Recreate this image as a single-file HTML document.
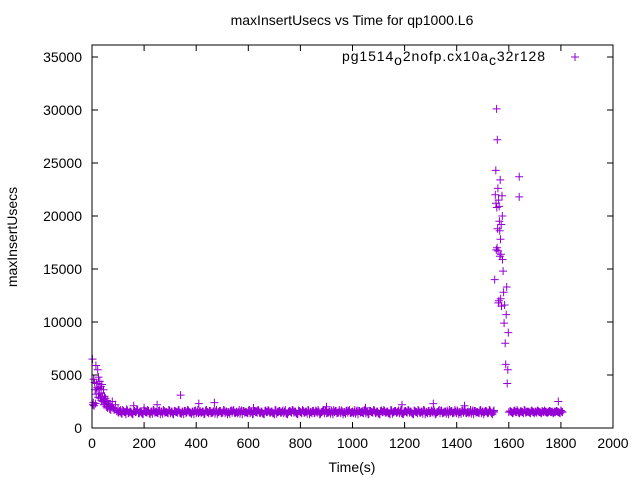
<!DOCTYPE html>
<html><head><meta charset="utf-8"><style>
body{margin:0;background:#fff}
svg text{font-family:"Liberation Sans",sans-serif;font-size:14px;fill:#000}
</style></head><body>
<svg id="chart" width="640" height="480" viewBox="0 0 640 480" xmlns="http://www.w3.org/2000/svg">
<rect width="640" height="480" fill="#fff"/>
<text x="352" y="25" text-anchor="middle">maxInsertUsecs vs Time for qp1000.L6</text>
<text transform="translate(17,237) rotate(-90)" text-anchor="middle">maxInsertUsecs</text>
<text x="352" y="472" text-anchor="middle">Time(s)</text>
<g id="ticks"></g>
<g id="marks"></g>
<rect x="92" y="45" width="521" height="383" fill="none" stroke="#000" stroke-width="1"/>
<g>
<text x="342" y="61" textLength="203" lengthAdjust="spacing">pg1514<tspan dy="4">o</tspan><tspan dy="-4">2nofp.cx10a</tspan><tspan dy="4">c</tspan><tspan dy="-4">32r128</tspan></text>
<path d="M571 57h8M575 53v8" stroke="#9400d3" stroke-width="1"/>
</g>
</svg>
<script>
const xTicks=[0,200,400,600,800,1000,1200,1400,1600,1800,2000];
const yTicks=[0,5000,10000,15000,20000,25000,30000,35000];
// early decay region (t, v)
const earlyT=[2,4,5,6,8,10,12,14,15,16,18,20,22,24,25,26,28,30,32,34,35,36,38,40,42,44,45,46,48,50,52,55,58,60,62,65,68,70,72,75,78,80,85,90,95,100,110,120,130];
const earlyV=[6500,2200,2400,4600,2100,4300,3600,2300,5900,3200,4200,3800,5500,2900,4800,3700,3200,4400,2800,3900,3300,2600,4100,3000,2500,3600,2700,2200,3000,2400,2800,2000,2600,1900,2300,2200,1800,2100,1700,2000,2500,1900,1700,2200,1600,1800,1700,1600,1500];
// main baseline band values, t starts 100 and step 6 s
const bandV=[1500,1600,1400,1700,1500,1300,1650,1450,1550,1350,1600,1500,1750,1400,1550,1450,1300,1600,1500,1700,1400,1550,1350,1650,1500,1450,1600,1300,1550,1700,1450,1500,1400,1650,1550,1350,1600,1500,1450,1700,1400,1550,1300,1600,1500,1650,1450,1350,1550,1600,1400,1700,1500,1450,1550,1300,1650,1500,1400,1600,1450,1550,1350,1700,1500,1600,1400,1450,1650,1550,1300,1500,1600,1450,1700,1400,1550,1500,1350,1650,1600,1450,1500,1400,1700,1550,1300,1600,1500,1450,1650,1400,1550,1350,1600,1500,1700,1450,1550,1400,1300,1650,1500,1600,1450,1550,1400,1700,1350,1500,1600,1450,1650,1550,1400,1300,1600,1500,1700,1450,1550,1350,1650,1500,1400,1600,1450,1550,1700,1300,1500,1600,1400,1650,1450,1550,1350,1500,1700,1600,1400,1450,1550,1650,1300,1500,1600,1450,1700,1400,1550,1500,1350,1650,1600,1450,1500,1400,1700,1550,1300,1600,1500,1450,1650,1400,1550,1350,1600,1500,1700,1450,1550,1400,1300,1650,1500,1600,1450,1550,1400,1700,1350,1500,1600,1450,1650,1550,1400,1300,1600,1500,1700,1450,1550,1350,1650,1500,1400,1600,1450,1550,1700,1300,1500,1600,1400,1650,1450,1550,1350,1500,1700,1600,1400,1450,1550,1650,1300,1500,1600,1450,1700,1400,1550,1500,1350,1650,1600,1450,1500,1400,1700,1550,1300,1600,1500,1450,1650,1400,1550];
// scattered outliers above band
const outT=[160,200,250,340,410,470,620,900,1050,1190,1310,1430,1790];
const outV=[2100,1900,2200,3100,2300,2400,1900,2000,1900,2200,2300,2100,2500];
// spike region
const spikeT=[1543,1546,1548,1550,1551,1552,1553,1554,1555,1556,1557,1558,1559,1560,1561,1562,1563,1564,1565,1566,1567,1568,1569,1570,1571,1572,1574,1575,1576,1578,1580,1582,1584,1586,1588,1590,1592,1594,1596,1598,1600];
const spikeV=[1500,14000,22000,24300,21200,16800,30100,20800,17000,27200,18800,22600,16700,11800,21500,12000,20900,19500,18600,16200,23400,17800,12200,16400,19200,11500,21900,20000,15900,14800,12800,9900,11600,8000,6000,10700,13300,4200,5500,9000,1500];
const spike2T=[1640,1640];
const spike2V=[23700,21800];
// post-spike band, t starts 1605, step 6 s
const band2V=[1600,1500,1450,1650,1500,1550,1400,1600,1500,1700,1450,1550,1500,1400,1650,1500,1550,1450,1600,1500,1400,1550,1650,1500,1450,1600,1500,1550,1450,1500,1600,1500,1400,1550];

const X0=92,X1=613,Y0=428,Y1=45;
const xs=t=>X0+t/2000*(X1-X0);
const ys=v=>Y0-v/36130*(Y0-Y1);
const NS='http://www.w3.org/2000/svg';
const tg=document.getElementById('ticks'),mg=document.getElementById('marks');
xTicks.forEach(t=>{
 const l=document.createElementNS(NS,'path');
 l.setAttribute('d',`M${xs(t)} ${Y0}v-6M${xs(t)} ${Y1}v6`);l.setAttribute('stroke','#000');
 
 
 tg.appendChild(l);
 const tx=document.createElementNS(NS,'text');
 tx.setAttribute('x',xs(t));tx.setAttribute('y',448);tx.setAttribute('text-anchor','middle');tx.textContent=t;
 
 
 tg.appendChild(tx);
});
yTicks.forEach(v=>{
 const l=document.createElementNS(NS,'path');
 l.setAttribute('d',`M${X0} ${ys(v)}h6M${X1} ${ys(v)}h-6`);l.setAttribute('stroke','#000');
 
 
 tg.appendChild(l);
 const tx=document.createElementNS(NS,'text');
 tx.setAttribute('x',82);tx.setAttribute('y',ys(v)+5);tx.setAttribute('text-anchor','end');tx.textContent=v;
 
 
 tg.appendChild(tx);
});
let d='';
function add(t,v){const x=xs(t),y=ys(v);d+=`M${(x-4).toFixed(1)} ${y.toFixed(1)}h8M${x.toFixed(1)} ${(y-4).toFixed(1)}v8`;}
earlyT.forEach((t,i)=>add(t,earlyV[i]));
bandV.forEach((v,i)=>{add(100+i*6,v);add(103+i*6,bandV[(i+7)%bandV.length]);});
outT.forEach((t,i)=>add(t,outV[i]));
spikeT.forEach((t,i)=>add(t,spikeV[i]));
spike2T.forEach((t,i)=>add(t,spike2V[i]));
band2V.forEach((v,i)=>{add(1605+i*6,v);add(1608+i*6,band2V[(i+5)%band2V.length]);});
const p=document.createElementNS(NS,'path');
p.setAttribute('d',d);p.setAttribute('stroke','#9400d3');p.setAttribute('stroke-width','1');p.setAttribute('fill','none');


mg.appendChild(p);
</script>
</body></html>
